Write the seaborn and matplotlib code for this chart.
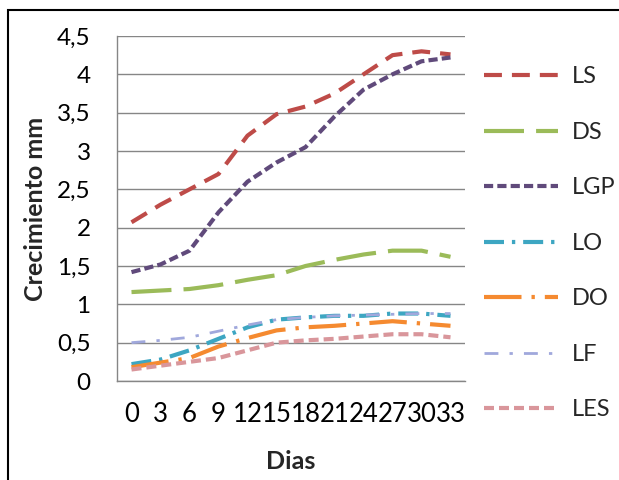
import matplotlib
matplotlib.use("Agg")
import matplotlib.pyplot as plt
import seaborn as sns
import pandas as pd
from matplotlib.patches import Rectangle

dias = ["0", "3", "6", "9", "12", "15", "18", "21", "24", "27", "30", "33"]
LS  = [2.07, 2.30, 2.50, 2.70, 3.20, 3.48, 3.58, 3.75, 4.00, 4.25, 4.30, 4.26]
DS  = [1.16, 1.18, 1.20, 1.25, 1.32, 1.38, 1.50, 1.58, 1.65, 1.70, 1.70, 1.62]
LGP = [1.42, 1.52, 1.70, 2.20, 2.60, 2.85, 3.05, 3.45, 3.80, 4.00, 4.17, 4.22]
LO  = [0.22, 0.28, 0.40, 0.55, 0.70, 0.80, 0.83, 0.85, 0.85, 0.88, 0.88, 0.85]
DO  = [0.18, 0.24, 0.30, 0.45, 0.56, 0.66, 0.70, 0.72, 0.75, 0.78, 0.75, 0.72]
LF  = [0.50, 0.53, 0.57, 0.65, 0.73, 0.80, 0.83, 0.85, 0.86, 0.87, 0.88, 0.88]
LES = [0.15, 0.20, 0.25, 0.30, 0.40, 0.50, 0.53, 0.55, 0.58, 0.61, 0.61, 0.57]
series_names = ["LS", "DS", "LGP", "LO", "DO", "LF", "LES"]
series_values = [LS, DS, LGP, LO, DO, LF, LES]
yticks = [0, 0.5, 1, 1.5, 2, 2.5, 3, 3.5, 4, 4.5]
ytick_labels = ["0", "0,5", "1", "1,5", "2", "2,5", "3", "3,5", "4", "4,5"]

colors = {"LS": "#BE4B48", "DS": "#9BBB59", "LGP": "#604A7B", "LO": "#3DA6C2",
          "DO": "#F58A30", "LF": "#A0A8DC", "LES": "#D9969B"}
dashes = {"LS": (4.3, 2.4), "DS": (9.6, 2.9), "LGP": (2.2, 1.0), "LO": (4.8, 1.9, 0.8, 1.9),
          "DO": (9.0, 2.4, 0.8, 2.4), "LF": (5.0, 4.0, 1.2, 4.0), "LES": (2.4, 1.2)}
widths = {"LS": 3.0, "DS": 3.0, "LGP": 3.0, "LO": 3.0, "DO": 3.0, "LF": 2.0, "LES": 3.0}

rows = []
for name, vals in zip(series_names, series_values):
    for d, v in zip(dias, vals):
        rows.append({"Dias": d, "valor": v, "serie": name})
df = pd.DataFrame(rows)

sns.set_style("white")
plt.rcParams["font.family"] = ["Lato", "DejaVu Sans"]

fig = plt.figure(figsize=(6.19, 4.8), dpi=100)
ax = fig.add_axes([117/619, 1-381/480, 348/619, 345/480])

for name in series_names:
    sub = df[df["serie"] == name]
    sns.lineplot(data=sub, x="Dias", y="valor", ax=ax, color=colors[name],
                 linewidth=widths[name], label=name, sort=False)
    ln = ax.lines[-1]
    ln.set_dashes(dashes[name])
    ln.set_dash_capstyle("butt")

ax.set_xlim(-0.5, len(dias) - 0.5)
ax.set_ylim(0, 4.5)
ax.set_yticks(yticks)
ax.set_yticklabels(ytick_labels)
ax.yaxis.grid(True, color="#868686", linewidth=1.0)
ax.xaxis.grid(False)
for s in ["top", "right"]:
    ax.spines[s].set_visible(False)
for s in ["left", "bottom"]:
    ax.spines[s].set_color("#868686")
    ax.spines[s].set_linewidth(1.0)
ax.tick_params(axis="both", length=0, colors="#000000")
ax.tick_params(axis="y", pad=19, labelsize=17.5)
ax.tick_params(axis="x", pad=15, labelsize=18.5)
ax.set_xlabel("Dias", fontsize=18, fontweight="bold", labelpad=17)
ax.set_ylabel("Crecimiento mm", fontsize=18, fontweight="bold", labelpad=7)

ax.legend(loc="upper left", bbox_to_anchor=(475/619, 1-57/480), bbox_transform=fig.transFigure,
          frameon=False, fontsize=17, handlelength=3.1, handletextpad=0.6,
          labelspacing=1.46, borderaxespad=0)

fig.patches.append(Rectangle((8/619, -0.02), 1.0, 1 - 10/480 + 0.02, transform=fig.transFigure,
                             fill=False, edgecolor="black", linewidth=1.5))

fig.savefig("out.png", dpi=100)
